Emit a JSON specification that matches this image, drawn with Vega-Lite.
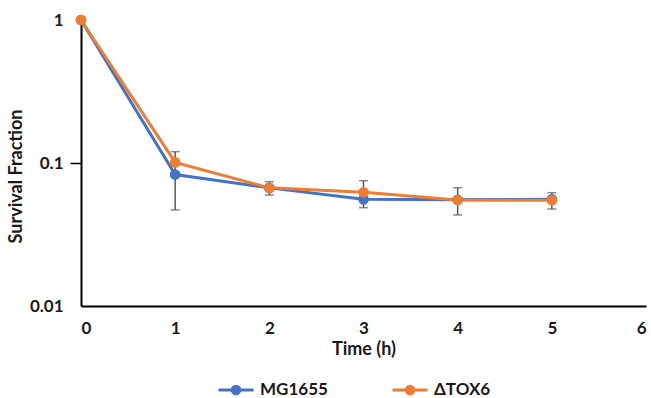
{
  "$schema": "https://vega.github.io/schema/vega-lite/v6.json",
  "width": 565,
  "height": 286,
  "autosize": {"type": "none"},
  "padding": {"left": 81, "top": 20, "right": 5, "bottom": 92},
  "background": "white",
  "config": {
    "view": {"stroke": null},
    "font": "Lato",
    "axis": {
      "grid": false,
      "domainColor": "black",
      "domainWidth": 2,
      "labelFont": "Lato",
      "labelFontWeight": "bold",
      "labelFontSize": 17,
      "labelColor": "#1a1a1a",
      "titleFont": "Lato",
      "titleFontWeight": "bold",
      "titleFontSize": 18,
      "titleColor": "#1a1a1a"
    }
  },
  "data": {
    "values": [
      {"series": "MG1655", "time": 0, "value": 1},
      {"series": "MG1655", "time": 1, "value": 0.083, "lo": 0.047, "hi": 0.12},
      {"series": "MG1655", "time": 2, "value": 0.067},
      {"series": "MG1655", "time": 3, "value": 0.0557},
      {"series": "MG1655", "time": 4, "value": 0.0553},
      {"series": "MG1655", "time": 5, "value": 0.0557},
      {"series": "ΔTOX6", "time": 0, "value": 1},
      {"series": "ΔTOX6", "time": 1, "value": 0.101},
      {"series": "ΔTOX6", "time": 2, "value": 0.067, "lo": 0.0597, "hi": 0.074},
      {"series": "ΔTOX6", "time": 3, "value": 0.0624, "lo": 0.0487, "hi": 0.0752},
      {"series": "ΔTOX6", "time": 4, "value": 0.0551, "lo": 0.0433, "hi": 0.0672},
      {"series": "ΔTOX6", "time": 5, "value": 0.0549, "lo": 0.0477, "hi": 0.062}
    ]
  },
  "layer": [
    {
      "transform": [{"filter": "datum.lo != null"}],
      "mark": {"type": "errorbar", "color": "#595959", "thickness": 1.5, "ticks": {"size": 9, "thickness": 1.5}},
      "encoding": {
        "x": {"field": "time", "type": "quantitative", "scale": {"domain": [0, 6], "nice": false},
          "axis": {"values": [0, 1, 2, 3, 4, 5, 6], "format": "d", "ticks": false, "labelPadding": 14, "title": "Time (h)", "titlePadding": 4}},
        "y": {"field": "lo", "type": "quantitative", "scale": {"type": "log", "domain": [0.01, 1], "nice": false},
          "axis": {"values": [0.01, 0.1, 1], "labelExpr": "datum.value", "tickSize": 11, "tickWidth": 1.5,
            "tickColor": {"condition": {"test": "datum.value == 0.1", "value": "black"}, "value": "transparent"},
            "labelPadding": 7, "title": "Survival Fraction", "titlePadding": 4, "titleY": 156}},
        "y2": {"field": "hi"}
      }
    },
    {
      "mark": {"type": "line", "strokeWidth": 3},
      "encoding": {
        "x": {"field": "time", "type": "quantitative"},
        "y": {"field": "value", "type": "quantitative"},
        "color": {"field": "series", "type": "nominal",
          "scale": {"domain": ["MG1655", "ΔTOX6"], "range": ["#4472C4", "#ED7D31"]},
          "legend": {
            "title": null, "orient": "none", "legendX": 136, "legendY": 351, "direction": "horizontal",
            "columns": 2, "columnPadding": 58, "padding": 0,
            "symbolType": "M-1,0L1,0M-0.22,0A0.22,0.22,0,1,1,0.22,0A0.22,0.22,0,1,1,-0.22,0Z",
            "symbolSize": 1225, "symbolStrokeWidth": 3,
            "labelFont": "Lato", "labelFontWeight": "bold", "labelFontSize": 17, "labelColor": "#1a1a1a", "labelOffset": 5,
            "encode": {"symbols": {"update": {
              "stroke": {"scale": "color", "field": "value"},
              "fill": {"scale": "color", "field": "value"},
              "strokeWidth": {"value": 3},
              "opacity": {"value": 1}
            }}}
          }}
      }
    },
    {
      "mark": {"type": "circle", "size": 115, "opacity": 1},
      "encoding": {
        "x": {"field": "time", "type": "quantitative"},
        "y": {"field": "value", "type": "quantitative"},
        "color": {"field": "series", "type": "nominal"}
      }
    }
  ]
}
